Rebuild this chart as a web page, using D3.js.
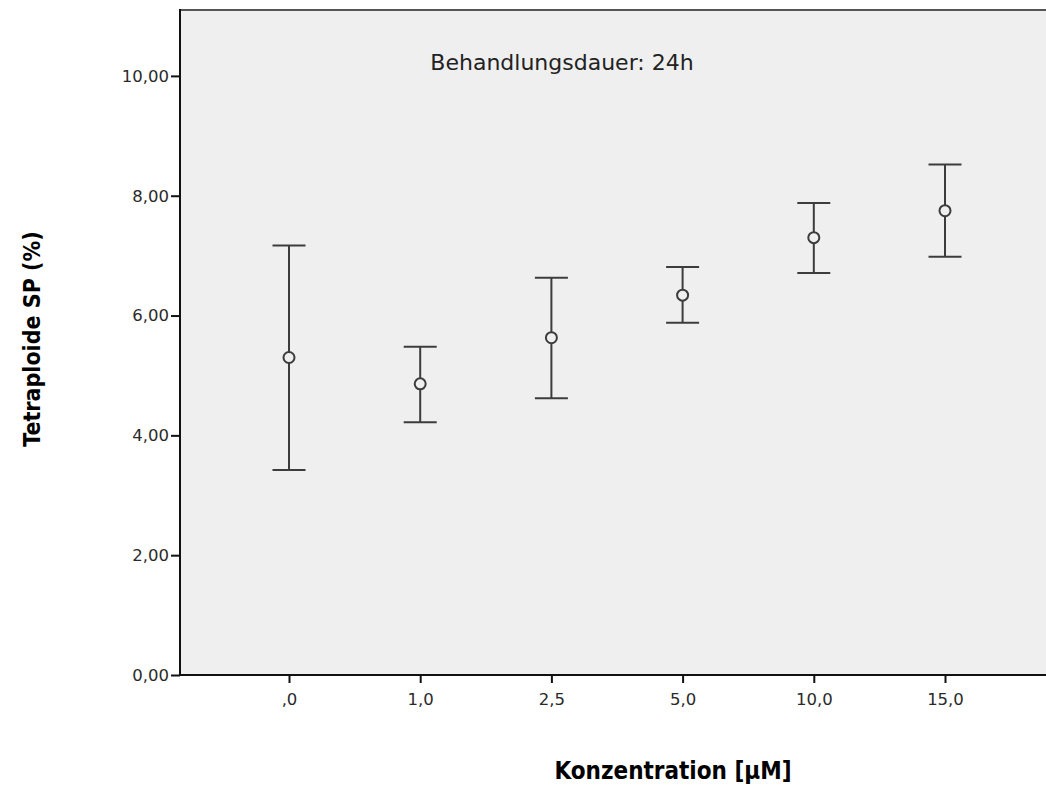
<!DOCTYPE html>
<html>
<head>
<meta charset="utf-8">
<script src="https://cdn.jsdelivr.net/npm/d3@7"></script>
<style>
  body { margin: 0; background: #fff; }
  svg { display: block; }
</style>
</head>
<body>
<svg id="chart"></svg>
<script>
var concentrations = [",0", "1,0", "2,5", "5,0", "10,0", "15,0"];
var means = [5.30, 4.86, 5.63, 6.34, 7.30, 7.75];
var upper = [7.17, 5.48, 6.63, 6.81, 7.88, 8.52];
var lower = [3.42, 4.22, 4.62, 5.88, 6.71, 6.98];
var yTicks = [0, 2, 4, 6, 8, 10];

var width = 1046, height = 785;
var plotLeft = 180, plotTop = 10, plotBottom = 675, plotRight = 1070;

var svg = d3.select("#chart")
	.attr("width", width)
	.attr("height", height);

var data = concentrations.map(function(c, i) {
	return { c: c, m: means[i], hi: upper[i], lo: lower[i] };
});

// Scales
var xScale = d3.scalePoint()
	.domain(concentrations)
	.range([289, 945]);

var yScale = d3.scaleLinear()
	.domain([0, 11.1])
	.range([plotBottom, plotTop]);

// Plot background
svg.append("rect")
	.attr("x", plotLeft)
	.attr("y", plotTop)
	.attr("width", plotRight - plotLeft)
	.attr("height", plotBottom - plotTop)
	.attr("fill", "#efefef");

svg.append("line")
	.attr("x1", plotLeft).attr("x2", plotRight)
	.attr("y1", plotTop).attr("y2", plotTop)
	.attr("stroke", "#555")
	.attr("stroke-width", 2);

// Y Axis
var yAxis = d3.axisLeft(yScale)
	.tickValues(yTicks)
	.tickSize(9)
	.tickPadding(2)
	.tickFormat(function(d) { return d3.format(".2f")(d).replace(".", ","); });

var gy = svg.append("g")
	.attr("transform", "translate(" + plotLeft + ",0)")
	.call(yAxis);
gy.select(".domain").remove();
gy.append("line")
	.attr("x1", 0).attr("x2", 0)
	.attr("y1", plotTop - 1).attr("y2", plotBottom + 1)
	.attr("stroke", "#111")
	.attr("stroke-width", 2);

// X Axis
var xAxis = d3.axisBottom(xScale)
	.tickSize(8)
	.tickPadding(10);

var gx = svg.append("g")
	.attr("transform", "translate(0," + plotBottom + ")")
	.call(xAxis);
gx.select(".domain").remove();
gx.append("line")
	.attr("x1", plotLeft - 1).attr("x2", plotRight)
	.attr("y1", 0).attr("y2", 0)
	.attr("stroke", "#111")
	.attr("stroke-width", 2);

svg.selectAll(".tick line").attr("stroke", "#111").attr("stroke-width", 2);
svg.selectAll(".tick text")
	.attr("fill", "#2a2a2a")
	.style("font-family", "'DejaVu Sans', sans-serif")
	.style("font-size", "16.5px");

// Error bars
var bars = svg.append("g")
	.selectAll("g")
	.data(data)
	.enter()
	.append("g")
	.attr("stroke", "#3c3c3c")
	.attr("stroke-width", 2)
	.attr("fill", "none");

bars.append("line")
	.attr("x1", function(d) { return xScale(d.c); })
	.attr("x2", function(d) { return xScale(d.c); })
	.attr("y1", function(d) { return yScale(d.hi); })
	.attr("y2", function(d) { return yScale(d.lo); });

bars.append("line")
	.attr("x1", function(d) { return xScale(d.c) - 16.5; })
	.attr("x2", function(d) { return xScale(d.c) + 16.5; })
	.attr("y1", function(d) { return yScale(d.hi); })
	.attr("y2", function(d) { return yScale(d.hi); });

bars.append("line")
	.attr("x1", function(d) { return xScale(d.c) - 16.5; })
	.attr("x2", function(d) { return xScale(d.c) + 16.5; })
	.attr("y1", function(d) { return yScale(d.lo); })
	.attr("y2", function(d) { return yScale(d.lo); });

bars.append("circle")
	.attr("cx", function(d) { return xScale(d.c); })
	.attr("cy", function(d) { return yScale(d.m); })
	.attr("r", 5.5)
	.attr("fill", "#efefef");

// Title inside plot
svg.append("text")
	.attr("x", 562)
	.attr("y", 70)
	.style("text-anchor", "middle")
	.style("font-family", "'DejaVu Sans', sans-serif")
	.style("font-size", "22px")
	.attr("fill", "#222")
	.text("Behandlungsdauer: 24h");

// Axis titles
svg.append("text")
	.style("text-anchor", "middle")
	.attr("transform", "translate(673,779)")
	.style("font-family", "'DejaVu Sans Condensed', 'DejaVu Sans', sans-serif")
	.style("font-stretch", "condensed")
	.style("font-weight", "bold")
	.style("font-size", "24px")
	.attr("fill", "#000")
	.text("Konzentration [\u03bcM]");

svg.append("text")
	.style("text-anchor", "middle")
	.attr("transform", "translate(40,339)rotate(-90)")
	.style("font-family", "'DejaVu Sans Condensed', 'DejaVu Sans', sans-serif")
	.style("font-stretch", "condensed")
	.style("font-weight", "bold")
	.style("font-size", "23px")
	.attr("fill", "#000")
	.text("Tetraploide SP (%)");
</script>
</body>
</html>
